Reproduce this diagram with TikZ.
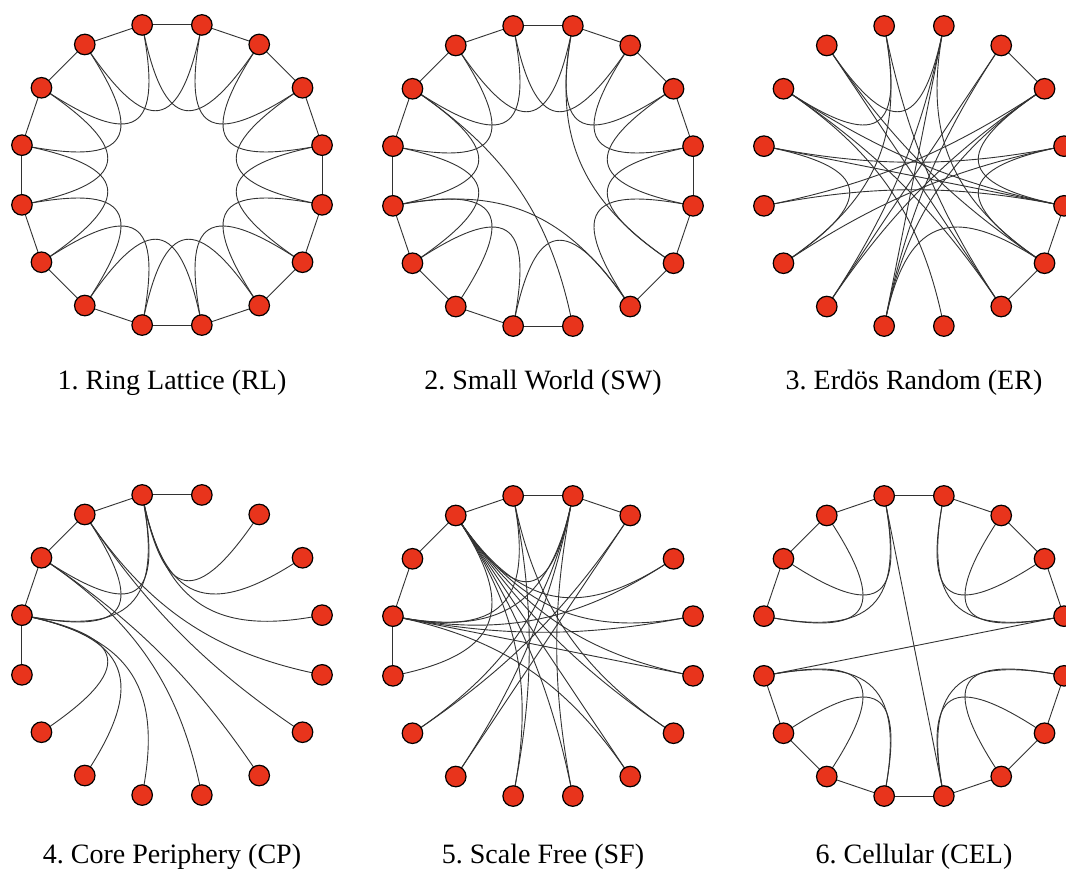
\documentclass[tikz,border=0pt]{standalone}
\usepackage{fontspec}
\setmainfont{Liberation Serif}
\usetikzlibrary{calc,backgrounds}
\definecolor{nodered}{RGB}{232,52,28}
\definecolor{edgegray}{RGB}{50,50,50}
\tikzset{
  vtx/.style={circle, draw=black, line width=1.2pt, fill=nodered, minimum size=20.5pt, inner sep=0pt},
  edge/.style={draw=edgegray, line width=0.9pt},
  caption/.style={font=\fontsize{28}{30}\selectfont, anchor=center, inner sep=0pt}
}
\newcommand\ctlf{0.72}
\newcommand\vring[3]{%
  \foreach \k in {0,...,15} {
    \pgfmathsetmacro\ang{101.25-22.5*\k}
    \pgfmathsetmacro\rr{(mod(\k,4)==2||mod(\k,4)==3)?157:153}
    \node[vtx] (#1\k) at ({#2+\rr*cos(\ang)},{#3-\rr*sin(\ang)}) {};
  }
  \coordinate (#1c) at (#2,#3);
}
\newcommand\edg[3]{%
  \pgfmathtruncatemacro\dd{min(abs(#2-#3),16-abs(#2-#3))}%
  \ifnum\dd=1
    \draw[edge] (#1#2.center) -- (#1#3.center);
  \else
    \draw[edge] (#1#2.center) .. controls ($(#1#2.center)!\ctlf!(#1c)$) and ($(#1#3.center)!\ctlf!(#1c)$) .. (#1#3.center);
  \fi
}
\begin{document}
\frenchspacing
\begin{tikzpicture}[x=1pt,y=-1pt]
\useasboundingbox (0,0) rectangle (1066,872);
% vertices
\vring{a}{172}{175}
\vring{b}{543}{176}
\vring{c}{914}{176}
\vring{d}{172}{645}
\vring{e}{543}{646}
\vring{f}{914}{646}
% captions
\node[caption] (la) at (172,383) {1. Ring Lattice (RL)};
\node[caption] (lb) at (543,383) {2. Small World (SW)};
\node[caption] (lc) at (914,383) {3. Erdös Random (ER)};
\node[caption] (ld) at (172,857) {4. Core Periphery (CP)};
\node[caption] (le) at (543,857) {5. Scale Free (SF)};
\node[caption] (lf) at (914,857) {6. Cellular (CEL)};
\begin{pgfonlayer}{background}
\fill[white] (0,0) rectangle (1066,872);
% 1 ring lattice
\foreach \i in {0,...,15} {
  \pgfmathtruncatemacro\ja{mod(\i+1,16)}
  \pgfmathtruncatemacro\jb{mod(\i+2,16)}
  \edg{a}{\i}{\ja}
  \edg{a}{\i}{\jb}
}
% 2 small world
\foreach \i/\j in {0/1,1/2,2/3,3/4,4/5,5/6,6/7,8/9,9/10,10/11,11/12,12/13,13/14,14/15,15/0,
  0/2,1/3,2/4,3/5,4/6,5/7,7/9,9/11,10/12,11/13,12/14,13/15,14/0,15/1,1/6,14/8,12/7}
  {\edg{b}{\i}{\j}}
% 3 erdos random
\foreach \i/\j in {2/3,5/6,6/7,0/14,0/7,0/11,1/9,1/10,1/15,1/6,2/10,2/9,3/9,3/12,3/5,
  4/13,4/11,4/6,5/13,5/12,5/14,6/9,6/15,7/15,7/14,8/14,10/3,11/13}
  {\edg{c}{\i}{\j}}
% 4 core periphery
\foreach \i/\j in {0/1,0/15,15/14,14/13,13/12,0/14,0/13,15/13,0/2,0/3,0/4,15/5,15/6,
  14/7,14/8,13/9,13/10,13/11}
  {\edg{d}{\i}{\j}}
% 5 scale free
\foreach \i/\j in {0/1,1/2,0/15,15/14,14/13,13/12,15/1,15/12,15/3,15/4,15/5,15/6,15/7,
  15/8,15/9,13/4,13/3,13/5,13/7,13/1,13/0,1/10,1/11,1/8,0/9,0/6,2/11,2/10}
  {\edg{e}{\i}{\j}}
% 6 cellular
\foreach \i/\j in {0/15,15/14,14/13,0/14,0/13,15/13,1/2,2/3,3/4,1/3,1/4,2/4,
  5/6,6/7,7/8,5/7,5/8,6/8,9/10,10/11,11/12,9/11,9/12,10/12,0/1,8/9,0/8,4/12}
  {\edg{f}{\i}{\j}}
\end{pgfonlayer}
\end{tikzpicture}
\end{document}
